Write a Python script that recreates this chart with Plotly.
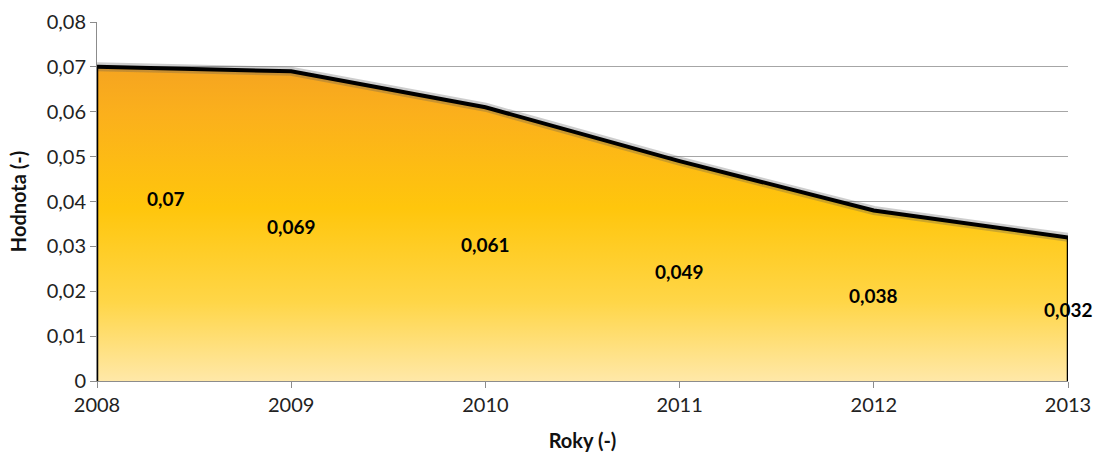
import plotly.graph_objects as go

# Data
years = [2008, 2009, 2010, 2011, 2012, 2013]
values = [0.070, 0.069, 0.061, 0.049, 0.038, 0.032]
value_labels = ["0,07", "0,069", "0,061", "0,049", "0,038", "0,032"]
y_tickvals = [0, 0.01, 0.02, 0.03, 0.04, 0.05, 0.06, 0.07, 0.08]
y_ticktext = ["0", "0,01", "0,02", "0,03", "0,04", "0,05", "0,06", "0,07", "0,08"]

FONT = "Lato, 'Open Sans', sans-serif"

fig = go.Figure()

# Gradient-filled area
fig.add_trace(go.Scatter(
    x=years, y=values, mode="lines", fill="tozeroy",
    line=dict(color="rgba(0,0,0,0)", width=0),
    fillgradient=dict(
        type="vertical", start=0, stop=max(values),
        colorscale=[[0.0, "#FFE8A8"], [0.25, "#FFD648"], [0.55, "#FFC60C"],
                    [0.85, "#FBB01C"], [1.0, "#F5A420"]],
    ),
    hoverinfo="skip", showlegend=False,
))

# Soft shadow around the outline
fig.add_trace(go.Scatter(
    x=years, y=values, mode="lines",
    line=dict(color="rgba(90,90,90,0.3)", width=9),
    hoverinfo="skip", showlegend=False,
))

# Black outline along the top
fig.add_trace(go.Scatter(
    x=years, y=values, mode="lines",
    line=dict(color="#000000", width=4),
    hoverinfo="skip", showlegend=False,
))

# Side edges of the area
for xi, yi in [(years[0], values[0]), (years[-1], values[-1])]:
    fig.add_shape(type="line", x0=xi, x1=xi, y0=0, y1=yi, xref="x", yref="y",
                  line=dict(color="#000000", width=2.5), layer="above")

# Value labels placed in the middle of the area
for i, (xv, yv, txt) in enumerate(zip(years, values, value_labels)):
    fig.add_annotation(
        x=xv, y=yv / 2, text=f"<b>{txt}</b>", showarrow=False,
        xshift=69 if i == 0 else 0, yshift=25 if i == 0 else 0,
        font=dict(family=FONT, size=19, color="#000000"),
    )

fig.update_layout(
    width=1099, height=459,
    margin=dict(l=97, r=31, t=22, b=78),
    paper_bgcolor="white", plot_bgcolor="white",
    font=dict(family=FONT, size=20, color="#222222"),
    xaxis=dict(
        range=[years[0], years[-1]], tickvals=years, ticktext=[str(y) for y in years],
        showgrid=False, zeroline=False, automargin=False,
        showline=True, linecolor="#8C8C8C", linewidth=1,
        ticks="outside", ticklen=6, tickcolor="#8C8C8C",
        tickfont=dict(family=FONT, size=20, color="#222222"),
        title=dict(text="<b>Roky (-)</b>", font=dict(family=FONT, size=20, color="#111111"), standoff=18),
    ),
    yaxis=dict(
        range=[0, 0.08], tickvals=y_tickvals, ticktext=y_ticktext,
        showgrid=True, gridcolor="#A6A6A6", gridwidth=1, zeroline=False, automargin=False,
        showline=True, linecolor="#8C8C8C", linewidth=1,
        ticks="outside", ticklen=6, tickcolor="#8C8C8C",
        tickfont=dict(family=FONT, size=20, color="#222222"),
        title=dict(text="<b>Hodnota (-)</b>", font=dict(family=FONT, size=20, color="#111111"), standoff=14),
    ),
)

fig.write_html("out.html")
